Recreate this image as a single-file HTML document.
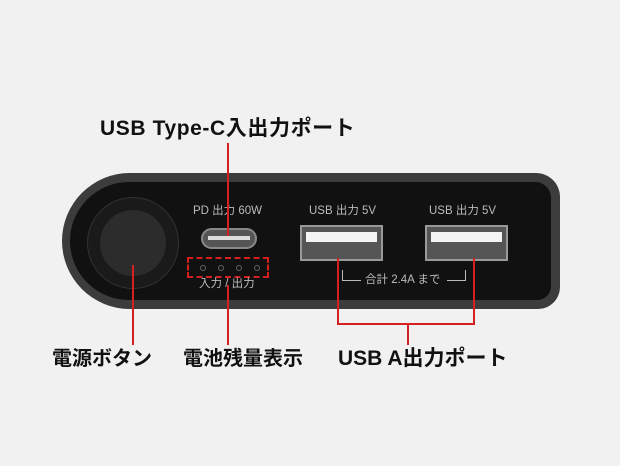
<!DOCTYPE html>
<html><head><meta charset="utf-8"><style>
body{margin:0;width:620px;height:466px;background:#f1f1f1;overflow:hidden;position:relative;font-family:"Liberation Sans","Noto Sans CJK JP",sans-serif}
.a{position:absolute}
.lbl{position:absolute;font-size:20px;font-weight:bold;color:#111;white-space:nowrap;line-height:1}
.sm{position:absolute;font-size:11.5px;color:#bbb;white-space:nowrap;line-height:1}
.r{position:absolute;background:#d42020}
.d{position:absolute;width:4px;height:4px;border-radius:50%;border:1px solid #666;top:265px}
</style></head><body>
<div class="a" style="left:62px;top:173px;width:498px;height:136px;background:#3c3c3c;border-radius:68px 24px 22px 68px"></div>
<div class="a" style="left:70px;top:182px;width:481px;height:118px;background:#111;border-radius:60px 16px 14px 60px"></div>
<div class="a" style="left:87px;top:197px;width:92px;height:92px;border-radius:50%;background:#1a1a1a;border:1px solid #333;box-sizing:border-box"></div>
<div class="a" style="left:100px;top:210px;width:66px;height:66px;border-radius:50%;background:#2c2c2c"></div>
<div class="sm" style="left:193px;top:206px">PD 出力 60W</div>
<div class="sm" style="left:309px;top:206px">USB 出力 5V</div>
<div class="sm" style="left:429px;top:206px">USB 出力 5V</div>
<div class="a" style="left:201px;top:228px;width:56px;height:21px;border-radius:11px;background:#555;border:2px solid #888;box-sizing:border-box"></div>
<div class="a" style="left:208px;top:236px;width:42px;height:4px;background:#ddd"></div>
<div class="a" style="left:300px;top:225px;width:83px;height:36px;background:#555;border:2px solid #999;box-sizing:border-box"></div>
<div class="a" style="left:306px;top:232px;width:71px;height:10px;background:#f4f4f4"></div>
<div class="a" style="left:425px;top:225px;width:83px;height:36px;background:#555;border:2px solid #999;box-sizing:border-box"></div>
<div class="a" style="left:431px;top:232px;width:71px;height:10px;background:#f4f4f4"></div>
<div class="a" style="left:187px;top:257px;width:82px;height:21px;border:2px dashed #d42020;box-sizing:border-box"></div>
<div class="d" style="left:200px"></div><div class="d" style="left:218px"></div><div class="d" style="left:236px"></div><div class="d" style="left:254px"></div>
<div class="sm" style="left:199px;top:279px">入力 / 出力</div>
<div class="a" style="left:342px;top:270px;width:18px;height:10px;border-left:1px solid #bbb;border-bottom:1px solid #bbb"></div>
<div class="a" style="left:447px;top:270px;width:18px;height:10px;border-right:1px solid #bbb;border-bottom:1px solid #bbb"></div>
<div class="sm" style="left:365px;top:275px">合計 2.4A まで</div>
<div class="r" style="left:227px;top:143px;width:2px;height:93px"></div>
<div class="r" style="left:132px;top:265px;width:2px;height:80px"></div>
<div class="r" style="left:227px;top:285px;width:2px;height:60px"></div>
<div class="r" style="left:337px;top:258px;width:2px;height:67px"></div>
<div class="r" style="left:473px;top:258px;width:2px;height:67px"></div>
<div class="r" style="left:337px;top:323px;width:138px;height:2px"></div>
<div class="r" style="left:407px;top:323px;width:2px;height:22px"></div>
<div class="lbl" style="left:100px;top:118px;font-size:21px;letter-spacing:0.6px">USB Type-C入出力ポート</div>
<div class="lbl" style="left:52px;top:349px">電源ボタン</div>
<div class="lbl" style="left:183px;top:349px">電池残量表示</div>
<div class="lbl" style="left:338px;top:348px;font-size:21px">USB A出力ポート</div>
</body></html>
